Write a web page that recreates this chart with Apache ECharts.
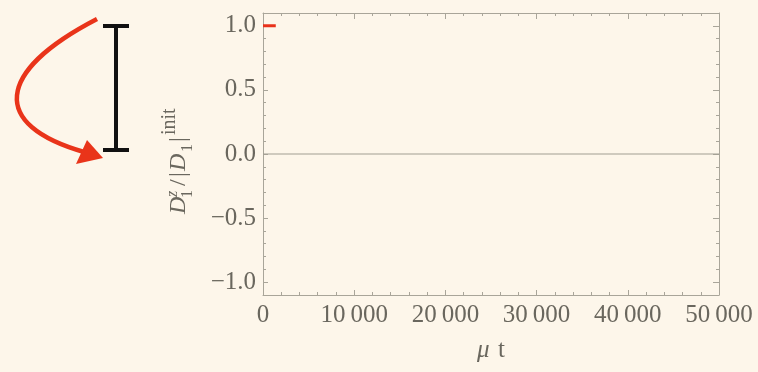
<!DOCTYPE html>
<html>

<head>
	<meta charset="UTF-8">
	<title></title>
	<style>
		html,
		body {
			margin: 0;
			padding: 0;
			background: #fdf6ea;
		}

		#chart {
			width: 758px;
			height: 372px;
		}
	</style>
	<script src="https://cdn.jsdelivr.net/npm/echarts@6/dist/echarts.min.js"></script>
</head>

<body>
	<div id="chart"></div>
	<script>
		// data
		var xTicks = [0, 10000, 20000, 30000, 40000, 50000];
		var yTicks = [-1.0, -0.5, 0.0, 0.5, 1.0];
		var redLine = [[0, 1], [1400, 1]];
		var zeroLine = [[0, 0], [50000, 0]];

		var serif = 'Liberation Serif';
		var frameColor = '#a9a599';
		var textColor = '#6a675e';

		function fmtX(v) {
			if (v < 10000) return String(v);
			var s = String(v);
			return s.slice(0, s.length - 3) + '\u2009' + s.slice(-3);
		}
		function fmtY(v) {
			var s = Math.abs(v).toFixed(1);
			return v < 0 ? '\u2212' + s : s;
		}

		var tickStyle = { color: frameColor, width: 1 };

		var myChart = echarts.init(document.getElementById('chart'));
		myChart.setOption({
			backgroundColor: '#fdf6ea',
			animation: false,
			grid: { left: 263, right: 39, top: 13, bottom: 77 },
			xAxis: [
				{
					type: 'value', min: 0, max: 50000, interval: 10000,
					axisLine: { onZero: false, lineStyle: { color: frameColor } },
					axisTick: { inside: true, length: 5, lineStyle: tickStyle },
					minorTick: { show: true, splitNumber: 5, length: 3, lineStyle: tickStyle },
					splitLine: { show: false },
					axisLabel: {
						margin: 8, fontFamily: serif, fontSize: 25, color: textColor,
						formatter: fmtX
					},
					name: '{i|\u03bc} \u200at',
					nameLocation: 'middle',
					nameGap: 43,
					nameTextStyle: {
						fontFamily: serif, fontSize: 25, color: textColor,
						rich: { i: { fontFamily: serif, fontStyle: 'italic', fontSize: 25, color: textColor } }
					}
				},
				{
					type: 'value', min: 0, max: 50000, interval: 10000, position: 'top',
					axisLine: { onZero: false, lineStyle: { color: frameColor } },
					axisTick: { inside: true, length: 6, lineStyle: tickStyle },
					minorTick: { show: true, splitNumber: 5, length: 3, lineStyle: tickStyle },
					splitLine: { show: false },
					axisLabel: { show: false }
				}
			],
			yAxis: [
				{
					type: 'value', min: -1.1, max: 1.1, position: 'left',
					axisLine: { show: true, onZero: false, lineStyle: { color: frameColor } },
					axisTick: { inside: true, length: 5, lineStyle: tickStyle, customValues: yTicks },
					splitLine: { show: false },
					axisLabel: {
						customValues: yTicks,
						margin: 7, fontFamily: serif, fontSize: 25, color: textColor,
						formatter: fmtY
					}
				},
				{
					type: 'value', min: -1.1, max: 1.1, interval: 0.1, position: 'left',
					axisLine: { show: false, onZero: false },
					axisTick: { inside: true, length: 3, lineStyle: tickStyle },
					splitLine: { show: false },
					axisLabel: { show: false }
				},
				{
					type: 'value', min: -1.1, max: 1.1, position: 'right',
					axisLine: { show: true, onZero: false, lineStyle: { color: frameColor } },
					axisTick: { inside: true, length: 6, lineStyle: tickStyle, customValues: yTicks },
					splitLine: { show: false },
					axisLabel: { show: false }
				},
				{
					type: 'value', min: -1.1, max: 1.1, interval: 0.1, position: 'right',
					axisLine: { show: false, onZero: false },
					axisTick: { inside: true, length: 3, lineStyle: tickStyle },
					splitLine: { show: false },
					axisLabel: { show: false }
				}
			],
			series: [
				{
					type: 'line', data: zeroLine, symbol: 'none', silent: true,
					lineStyle: { color: '#a29e92', width: 1.2 }
				},
				{
					type: 'line', data: redLine, symbol: 'none', silent: true,
					lineStyle: { color: '#e8311a', width: 3 }
				}
			],
			graphic: [
				// curved red arrow
				{
					type: 'bezierCurve',
					shape: { x1: 97, y1: 19, cpx1: -5, cpy1: 72, cpx2: -10, cpy2: 125, x2: 84, y2: 152 },
					style: { stroke: '#e9341a', lineWidth: 4.5, fill: null }
				},
				{
					type: 'polygon',
					shape: { points: [[103, 158], [76, 164], [87, 140]] },
					style: { fill: '#e9341a' }
				},
				// black bar
				{
					type: 'line', shape: { x1: 116, y1: 26, x2: 116, y2: 150 },
					style: { stroke: '#111', lineWidth: 4 }
				},
				{
					type: 'line', shape: { x1: 103, y1: 26, x2: 129, y2: 26 },
					style: { stroke: '#111', lineWidth: 4 }
				},
				{
					type: 'line', shape: { x1: 103, y1: 150, x2: 129, y2: 150 },
					style: { stroke: '#111', lineWidth: 4 }
				},
				// y axis title D1^z / |D1|^init
				{
					type: 'group', x: 191, y: 214, rotation: Math.PI / 2,
					children: [
						{ type: 'text', x: 0, y: 0, style: { text: 'D', font: 'italic 24px ' + serif, fill: textColor, verticalAlign: 'bottom' } },
						{ type: 'text', x: 17, y: -10, style: { text: 'z', font: 'italic 16px ' + serif, fill: textColor, verticalAlign: 'bottom' } },
						{ type: 'text', x: 16, y: 5, style: { text: '1', font: '16px ' + serif, fill: textColor, verticalAlign: 'bottom' } },
						{ type: 'text', x: 28, y: 0, style: { text: '/', font: '24px ' + serif, fill: textColor, verticalAlign: 'bottom' } },
						{ type: 'text', x: 37, y: 0, style: { text: '|', font: '24px ' + serif, fill: textColor, verticalAlign: 'bottom' } },
						{ type: 'text', x: 43, y: 0, style: { text: 'D', font: 'italic 24px ' + serif, fill: textColor, verticalAlign: 'bottom' } },
						{ type: 'text', x: 62, y: 5, style: { text: '1', font: '16px ' + serif, fill: textColor, verticalAlign: 'bottom' } },
						{ type: 'text', x: 72, y: 0, style: { text: '|', font: '24px ' + serif, fill: textColor, verticalAlign: 'bottom' } },
						{ type: 'text', x: 79, y: -11, style: { text: 'init', font: '20px ' + serif, fill: textColor, verticalAlign: 'bottom' } }
					]
				}
			]
		});
	</script>
</body>

</html>
